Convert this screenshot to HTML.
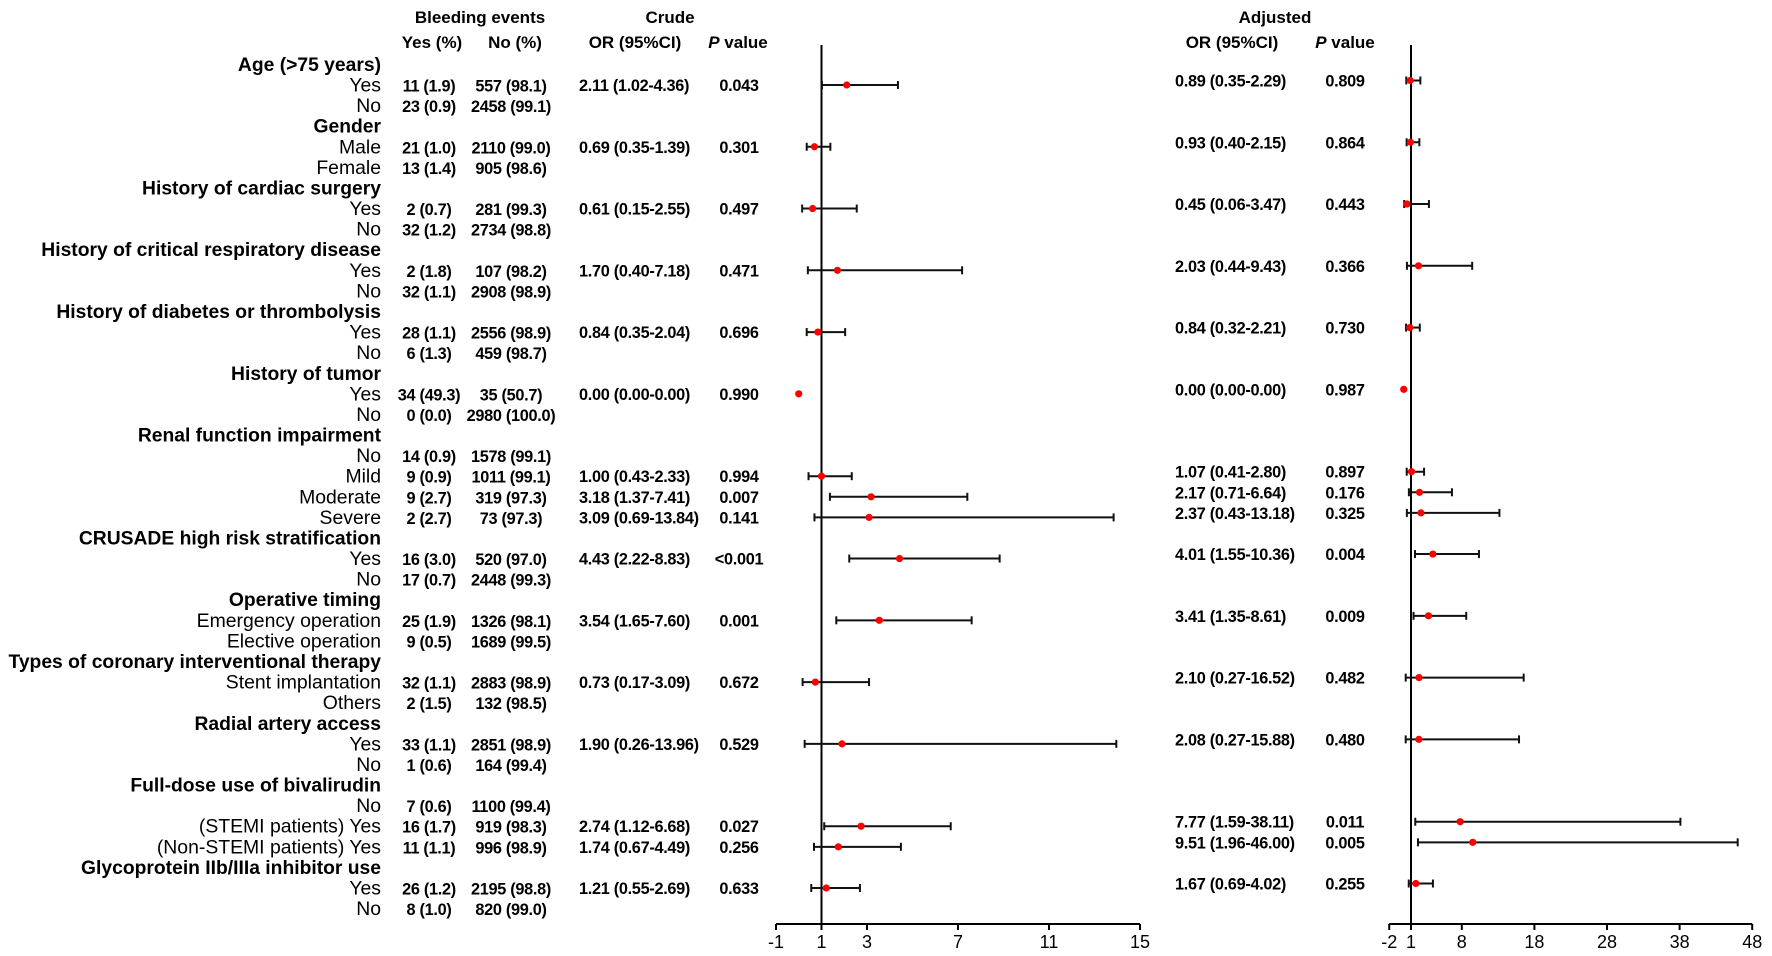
<!DOCTYPE html>
<html><head><meta charset="utf-8"><style>
html,body{margin:0;padding:0;background:#fff;}
svg{display:block;font-family:"Liberation Sans",Arial,sans-serif;}
.lab{font-size:19.4px;}
.hdr{font-size:19.3px;font-weight:bold;}
.dat{font-size:16.3px;font-weight:bold;letter-spacing:-0.3px;}
.col{font-size:17px;font-weight:bold;}
.tick{font-size:18px;}
</style></head><body>
<svg id="chart" width="1772" height="956" viewBox="0 0 1772 956">
<g id="txt"></g><g id="plotL"></g><g id="plotR"></g>
</svg>
<script>
const rowLabels=["Age (>75 years)","Yes","No","Gender","Male","Female","History of cardiac surgery","Yes","No","History of critical respiratory disease","Yes","No","History of diabetes or thrombolysis","Yes","No","History of tumor","Yes","No","Renal function impairment","No","Mild","Moderate","Severe","CRUSADE high risk stratification","Yes","No","Operative timing","Emergency operation","Elective operation","Types of coronary interventional therapy","Stent implantation","Others","Radial artery access","Yes","No","Full-dose use of bivalirudin","No","(STEMI patients) Yes","(Non-STEMI patients) Yes","Glycoprotein IIb/IIIa inhibitor use","Yes","No"];
const headerRows=[0,3,6,9,12,15,18,23,26,29,32,35,39];
const yesCol=["","11 (1.9)","23 (0.9)","","21 (1.0)","13 (1.4)","","2 (0.7)","32 (1.2)","","2 (1.8)","32 (1.1)","","28 (1.1)","6 (1.3)","","34 (49.3)","0 (0.0)","","14 (0.9)","9 (0.9)","9 (2.7)","2 (2.7)","","16 (3.0)","17 (0.7)","","25 (1.9)","9 (0.5)","","32 (1.1)","2 (1.5)","","33 (1.1)","1 (0.6)","","7 (0.6)","16 (1.7)","11 (1.1)","","26 (1.2)","8 (1.0)"];
const noCol=["","557 (98.1)","2458 (99.1)","","2110 (99.0)","905 (98.6)","","281 (99.3)","2734 (98.8)","","107 (98.2)","2908 (98.9)","","2556 (98.9)","459 (98.7)","","35 (50.7)","2980 (100.0)","","1578 (99.1)","1011 (99.1)","319 (97.3)","73 (97.3)","","520 (97.0)","2448 (99.3)","","1326 (98.1)","1689 (99.5)","","2883 (98.9)","132 (98.5)","","2851 (98.9)","164 (99.4)","","1100 (99.4)","919 (98.3)","996 (98.9)","","2195 (98.8)","820 (99.0)"];
const estRows=[1,4,7,10,13,16,20,21,22,24,27,30,33,37,38,40];
const crudeOR=[2.11,0.69,0.61,1.70,0.84,0.00,1.00,3.18,3.09,4.43,3.54,0.73,1.90,2.74,1.74,1.21];
const crudeLo=[1.02,0.35,0.15,0.40,0.35,0.00,0.43,1.37,0.69,2.22,1.65,0.17,0.26,1.12,0.67,0.55];
const crudeHi=[4.36,1.39,2.55,7.18,2.04,0.00,2.33,7.41,13.84,8.83,7.60,3.09,13.96,6.68,4.49,2.69];
const crudeP=["0.043","0.301","0.497","0.471","0.696","0.990","0.994","0.007","0.141","<0.001","0.001","0.672","0.529","0.027","0.256","0.633"];
const adjOR=[0.89,0.93,0.45,2.03,0.84,0.00,1.07,2.17,2.37,4.01,3.41,2.10,2.08,7.77,9.51,1.67];
const adjLo=[0.35,0.40,0.06,0.44,0.32,0.00,0.41,0.71,0.43,1.55,1.35,0.27,0.27,1.59,1.96,0.69];
const adjHi=[2.29,2.15,3.47,9.43,2.21,0.00,2.80,6.64,13.18,10.36,8.61,16.52,15.88,38.11,46.00,4.02];
const adjP=["0.809","0.864","0.443","0.366","0.730","0.987","0.897","0.176","0.325","0.004","0.009","0.482","0.480","0.011","0.005","0.255"];
const ticksL=[-1,1,3,7,11,15];
const ticksR=[-2,1,8,18,28,38,48];

const NS="http://www.w3.org/2000/svg";
function mk(parent,tag,attrs,text){const e=document.createElementNS(NS,tag);for(const k in attrs)e.setAttribute(k,attrs[k]);if(text!==undefined)e.textContent=text;parent.appendChild(e);return e;}
const rowY=i=>64.4+i*20.59;
const xL=v=>821.5+(v-1)*22.75;
const xR=v=>1411+(v-1)*7.26;
const axisY=924, topY=45;
const T=document.getElementById('txt');

[["Bleeding events",480,23],["Crude",670,23],["Adjusted",1275,23],["Yes (%)",432,48],["No (%)",515,48],["OR (95%CI)",635,48],["OR (95%CI)",1232,48]].forEach(h=>{
  const t=mk(T,'text',{x:h[1],y:h[2],'text-anchor':'middle',class:'col'},h[0]);
  
  
});
[[738],[1345]].forEach(p=>{
  const t=mk(T,'text',{x:p[0],y:48,'text-anchor':'middle',class:'col'});
  
  
  mk(t,'tspan',{'font-style':'italic'},'P');mk(t,'tspan',{},'  value');
});

rowLabels.forEach((l,i)=>{
  const y=rowY(i)+6.5;
  const hd=headerRows.includes(i);
  const t=mk(T,'text',{x:381,y:y,'text-anchor':'end',class:hd?'hdr':'lab'},l);
  
  
  if(yesCol[i]){const a=mk(T,'text',{x:429,y:y,'text-anchor':'middle',class:'dat'},yesCol[i]);
    
    }
  if(noCol[i]){const b=mk(T,'text',{x:511,y:y,'text-anchor':'middle',class:'dat'},noCol[i]);
    
    }
});
const f2=v=>v.toFixed(2);
estRows.forEach((r,k)=>{
  const y=rowY(r)+6;
  const a=mk(T,'text',{x:579,y:y,class:'dat'},`${f2(crudeOR[k])} (${f2(crudeLo[k])}-${f2(crudeHi[k])})`);
  
  
  const b=mk(T,'text',{x:739,y:y,'text-anchor':'middle',class:'dat'},crudeP[k]);
  
  
  const c=mk(T,'text',{x:1175,y:y-4.5,class:'dat'},`${f2(adjOR[k])} (${f2(adjLo[k])}-${f2(adjHi[k])})`);
  
  
  const d=mk(T,'text',{x:1345,y:y-4.5,'text-anchor':'middle',class:'dat'},adjP[k]);
  
  
});

function panel(g,xf,ticks,est,lo,hi,dy,name){
  const ax=mk(g,'line',{x1:xf(ticks[0]),x2:xf(ticks[ticks.length-1]),y1:axisY,y2:axisY,stroke:'#000','stroke-width':2});
  
  
  const ref=mk(g,'line',{x1:xf(1),x2:xf(1),y1:topY,y2:axisY,stroke:'#000','stroke-width':2});
  
  
  ticks.forEach(t=>{
    mk(g,'line',{x1:xf(t),x2:xf(t),y1:axisY,y2:axisY+6,stroke:'#000','stroke-width':2});
    const tl=mk(g,'text',{x:xf(t),y:axisY+24,'text-anchor':'middle',class:'tick'},String(t));
    
    
  });
  estRows.forEach((r,k)=>{
    const y=rowY(r)+dy;
    if(hi[k]>lo[k]){
      const w=mk(g,'line',{x1:xf(lo[k]),x2:xf(hi[k]),y1:y,y2:y,stroke:'#111','stroke-width':2});
      
      
      [lo[k],hi[k]].forEach(v=>mk(g,'line',{x1:xf(v),x2:xf(v),y1:y-4,y2:y+4,stroke:'#111','stroke-width':2}));
    }
    const p=mk(g,'circle',{cx:xf(est[k]),cy:y,r:3.6,fill:'#f00'});
    
    
  });
}
panel(document.getElementById('plotL'),xL,ticksL,crudeOR,crudeLo,crudeHi,0,'crude');
panel(document.getElementById('plotR'),xR,ticksR,adjOR,adjLo,adjHi,-4.5,'adjusted');
</script>
</body></html>
